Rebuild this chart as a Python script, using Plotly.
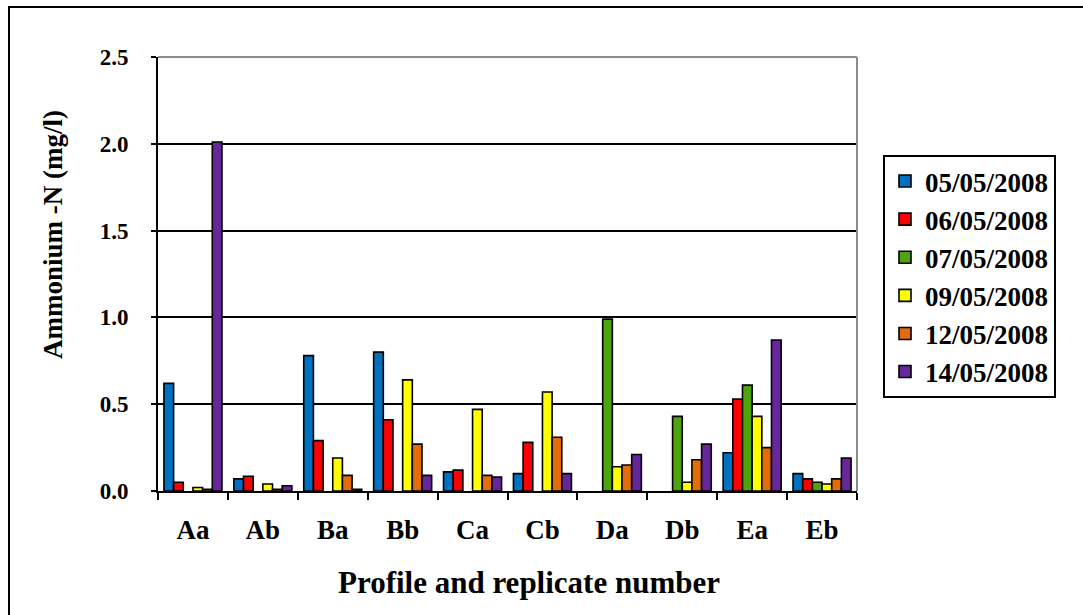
import plotly.graph_objects as go

categories = ["Aa", "Ab", "Ba", "Bb", "Ca", "Cb", "Da", "Db", "Ea", "Eb"]
dates = ["05/05/2008", "06/05/2008", "07/05/2008", "09/05/2008", "12/05/2008", "14/05/2008"]

s_0505 = [0.62, 0.07, 0.78, 0.80, 0.11, 0.10, None, None, 0.22, 0.10]
s_0605 = [0.05, 0.085, 0.29, 0.41, 0.12, 0.28, None, None, 0.53, 0.07]
s_0705 = [None, None, None, None, None, None, 0.99, 0.43, 0.61, 0.05]
s_0905 = [0.02, 0.04, 0.19, 0.64, 0.47, 0.57, 0.14, 0.05, 0.43, 0.04]
s_1205 = [0.01, 0.01, 0.09, 0.27, 0.09, 0.31, 0.15, 0.18, 0.25, 0.07]
s_1405 = [2.01, 0.03, 0.01, 0.09, 0.08, 0.10, 0.21, 0.27, 0.87, 0.19]

series = [s_0505, s_0605, s_0705, s_0905, s_1205, s_1405]
colors = ["#0070C0", "#FF0000", "#4EA40C", "#FFFF00", "#E46C0A", "#66279A"]

FONT = "Liberation Serif"

fig = go.Figure()
for name, vals, col in zip(dates, series, colors):
    fig.add_trace(go.Bar(
        x=categories, y=vals, name=f"<b>{name}</b>", legendgroup=name,
        marker=dict(color=col, line=dict(color="black", width=1.6)),
    ))

# plot area geometry (px)
L, R, T, B = 158, 857, 57, 491
W, H = 1083, 615
pw, ph = R - L, B - T

def px_x(x):
    return (x - L) / pw

def px_y(y):
    return (B - y) / ph

shapes = [
    # gray top & right plot-area border
    dict(type="line", xref="paper", yref="paper", x0=0, x1=1, y0=1, y1=1,
         line=dict(color="#8C8C8C", width=2)),
    dict(type="line", xref="paper", yref="paper", x0=1, x1=1, y0=0, y1=1,
         line=dict(color="#8C8C8C", width=2)),
    # outer chart border
    dict(type="rect", xref="paper", yref="paper",
         x0=px_x(9), x1=px_x(1095), y0=px_y(630), y1=px_y(7),
         line=dict(color="black", width=2), fillcolor="rgba(0,0,0,0)", layer="below"),
]

annotations = [
    dict(text="<b>Ammonium -N (mg/l)</b>", xref="paper", yref="paper",
         x=px_x(53), y=px_y(235), textangle=-90, showarrow=False,
         xanchor="center", yanchor="middle",
         font=dict(family=FONT, size=27, color="black")),
    dict(text="<b>Profile and replicate number</b>", xref="paper", yref="paper",
         x=px_x(529), y=px_y(582), showarrow=False,
         xanchor="center", yanchor="middle",
         font=dict(family=FONT, size=31, color="black")),
]

fig.update_layout(
    width=W, height=H,
    margin=dict(l=L, r=W - R, t=T, b=H - B, pad=0),
    paper_bgcolor="white", plot_bgcolor="white",
    barmode="group", bargap=0.17, bargroupgap=0,
    font=dict(family=FONT, color="black"),
    shapes=shapes, annotations=annotations,
    legend=dict(
        x=px_x(883), y=px_y(155), xanchor="left", yanchor="top",
        bgcolor="white", bordercolor="black", borderwidth=2,
        font=dict(family=FONT, size=27, color="black"),
        tracegroupgap=0, itemwidth=30,
    ),
    showlegend=True,
)

fig.update_xaxes(
    type="category", showgrid=False, showline=True, linecolor="black", linewidth=2,
    ticks="outside", tickson="boundaries", ticklen=7, tickwidth=2, tickcolor="black",
    tickfont=dict(family=FONT, size=27, color="black"),
    ticklabelstandoff=14, zeroline=False,
    tickvals=categories, ticktext=[f"<b>{c}</b>" for c in categories],
)

yticks = [0, 0.5, 1.0, 1.5, 2.0, 2.5]
fig.update_yaxes(
    range=[0, 2.5], showgrid=True, gridcolor="black", gridwidth=1.5,
    showline=True, linecolor="black", linewidth=2,
    ticks="outside", ticklen=5, tickwidth=2, tickcolor="black",
    tickfont=dict(family=FONT, size=23, color="black"),
    ticklabelstandoff=18, zeroline=False,
    tickvals=yticks, ticktext=[f"<b>{v:.1f}</b>" for v in yticks],
)

fig.write_html(
    "out.html",
    config={"displayModeBar": False},
    post_script="document.body.style.margin='0';document.body.style.padding='0';document.body.style.overflow='hidden';",
)
